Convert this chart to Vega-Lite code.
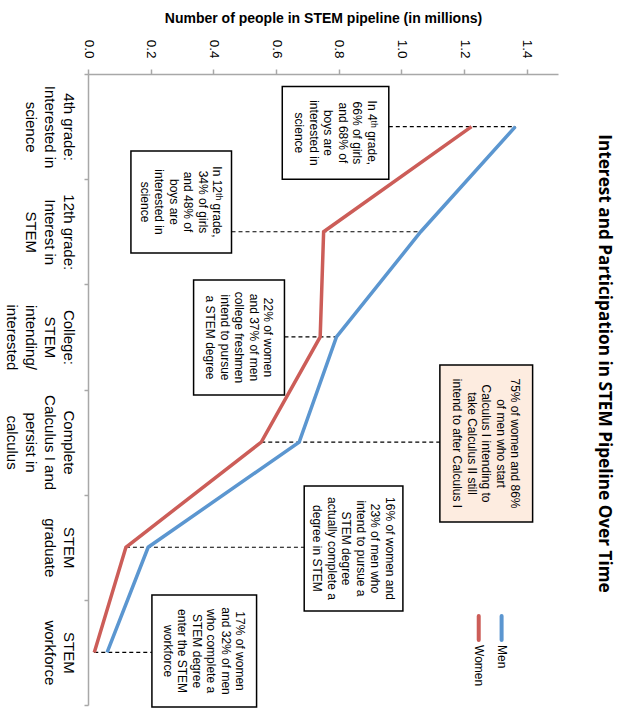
{
  "$schema": "https://vega.github.io/schema/vega-lite/v6.json",
  "width": 470,
  "height": 631,
  "autosize": "none",
  "padding": {"left": 88, "top": 74, "right": 69, "bottom": 3},
  "background": "white",
  "title": {
    "text": "Interest and Participation in STEM Pipeline Over Time",
    "orient": "right",
    "anchor": "middle",
    "font": "Open Sans",
    "fontSize": 17.2,
    "fontWeight": "bold",
    "color": "black",
    "offset": 38,
    "dx": -26
  },
  "config": {
    "view": {"stroke": null},
    "font": "Liberation Sans",
    "axis": {"grid": false}
  },
  "datasets": {
    "pipeline": [
      {"step": 1, "stage": "4th grade: Interested in science", "series": "Men", "value": 1.364},
      {"step": 2, "stage": "12th grade: Interest in STEM", "series": "Men", "value": 1.062},
      {"step": 3, "stage": "College: STEM intending/interested", "series": "Men", "value": 0.793},
      {"step": 4, "stage": "Complete Calculus I and persist in calculus", "series": "Men", "value": 0.674},
      {"step": 5, "stage": "STEM graduate", "series": "Men", "value": 0.192},
      {"step": 6, "stage": "STEM workforce", "series": "Men", "value": 0.061},
      {"step": 1, "stage": "4th grade: Interested in science", "series": "Women", "value": 1.224},
      {"step": 2, "stage": "12th grade: Interest in STEM", "series": "Women", "value": 0.752},
      {"step": 3, "stage": "College: STEM intending/interested", "series": "Women", "value": 0.741},
      {"step": 4, "stage": "Complete Calculus I and persist in calculus", "series": "Women", "value": 0.553},
      {"step": 5, "stage": "STEM graduate", "series": "Women", "value": 0.121},
      {"step": 6, "stage": "STEM workforce", "series": "Women", "value": 0.020}
    ],
    "notes": [
      {"step": 1, "x1": 0.62, "x2": 0.96, "y1": 0.62, "y2": 1.5, "from": 0.96, "to": 1.364,
       "text": "In 4ᵗʰ grade,\n66% of girls\nand 68% of\nboys are\ninterested in\nscience"},
      {"step": 2, "x1": 0.137, "x2": 0.458, "y1": 1.232, "y2": 2.202, "from": 0.458, "to": 1.062,
       "text": "In 12ᵗʰ grade,\n34% of girls\nand 48% of\nboys are\ninterested in\nscience"},
      {"step": 3, "x1": 0.337, "x2": 0.627, "y1": 2.459, "y2": 3.552, "from": 0.627, "to": 0.793,
       "text": "22% of women\nand 37% of men\ncollege freshmen\nintend to pursue\na STEM degree"},
      {"step": 4, "x1": 1.123, "x2": 1.419, "y1": 3.267, "y2": 4.76, "from": 0.553, "to": 1.123,
       "text": "75% of women and 86%\nof men who start\nCalculus I intending to\ntake Calculus II still\nintend to after Calculus I"},
      {"step": 5, "x1": 0.69, "x2": 1.005, "y1": 4.417, "y2": 5.606, "from": 0.121, "to": 0.69,
       "text": "16% of women and\n23% of men who\nintend to pursue a\nSTEM degree\nactually complete a\ndegree in STEM"},
      {"step": 6, "x1": 0.204, "x2": 0.538, "y1": 5.454, "y2": 6.52, "from": 0.02, "to": 0.204,
       "text": "17% of women\nand 32% of men\nwho complete a\nSTEM degree\nenter the STEM\nworkforce"}
    ],
    "key": [
      {"series": "Men", "lx": 1.32, "ly1": 5.654, "ly2": 5.882, "ty": 5.93},
      {"series": "Women", "lx": 1.247, "ly1": 5.654, "ly2": 5.882, "ty": 5.93}
    ]
  },
  "layer": [
    {
      "data": {"name": "notes"},
      "mark": {"type": "rule", "color": "black", "strokeWidth": 1.2, "strokeDash": [4, 3]},
      "encoding": {
        "x": {
          "field": "from",
          "type": "quantitative",
          "scale": {"domain": [0, 1.5], "nice": false, "zero": true},
          "axis": {
            "orient": "top",
            "values": [0, 0.2, 0.4, 0.6, 0.8, 1.0, 1.2, 1.4],
            "format": ".1f",
            "grid": false,
            "labelAngle": 90,
            "labelAlign": "right",
            "labelBaseline": "middle",
            "labelFont": "Liberation Sans",
            "labelFontSize": 13.5,
            "labelColor": "black",
            "labelPadding": 11,
            "labelFlush": false,
            "labelOverlap": false,
            "tickSize": 5,
            "tickWidth": 1.5,
            "tickColor": "#a8a8a8",
            "domainColor": "#a8a8a8",
            "domainWidth": 1.5,
            "title": "Number of people in STEM pipeline (in millions)",
            "titleFont": "Liberation Sans",
            "titleFontSize": 14,
            "titleFontWeight": "bold",
            "titleColor": "black",
            "titlePadding": 14
          }
        },
        "x2": {"field": "to"},
        "y": {
          "field": "step",
          "type": "quantitative",
          "scale": {"domain": [0.5, 6.5], "reverse": true, "nice": false, "zero": false},
          "axis": {
            "orient": "left",
            "values": [0.5, 1.5, 2.5, 3.5, 4.5, 5.5, 6.5],
            "grid": false,
            "labelExpr": "datum.value < 1 ? ['4th grade:', 'Interested in', 'science'] : datum.value < 2 ? ['12th grade:', 'Interest in', 'STEM'] : datum.value < 3 ? ['College:', 'STEM', 'intending/', 'interested'] : datum.value < 4 ? ['Complete', 'Calculus I and', 'persist in', 'calculus'] : datum.value < 5 ? ['STEM', 'graduate'] : datum.value < 6 ? ['STEM', 'workforce'] : ''",
            "labelAngle": 90,
            "labelAlign": "center",
            "labelBaseline": "top",
            "labelOffset": 52.6,
            "labelFont": "Liberation Sans",
            "labelFontSize": 15,
            "labelLineHeight": 19,
            "labelColor": "black",
            "labelPadding": 9,
            "labelFlush": false,
            "labelOverlap": false,
            "labelBound": false,
            "tickSize": 4,
            "tickWidth": 1.5,
            "tickColor": "#a8a8a8",
            "domainColor": "#a8a8a8",
            "domainWidth": 1.5,
            "title": ""
          }
        }
      }
    },
    {
      "data": {"name": "pipeline"},
      "mark": {"type": "line", "strokeWidth": 3.5, "strokeJoin": "miter"},
      "encoding": {
        "x": {"field": "value", "type": "quantitative"},
        "y": {"field": "step", "type": "quantitative"},
        "order": {"field": "step", "type": "quantitative"},
        "color": {
          "field": "series",
          "type": "nominal",
          "scale": {"domain": ["Men", "Women"], "range": ["#5b96d0", "#cc5d58"]},
          "legend": null
        }
      }
    },
    {
      "data": {"name": "notes"},
      "mark": {"type": "rect", "stroke": "black", "strokeWidth": 1.5},
      "encoding": {
        "x": {"field": "x1", "type": "quantitative"},
        "x2": {"field": "x2"},
        "y": {"field": "y1", "type": "quantitative"},
        "y2": {"field": "y2"},
        "fill": {
          "condition": {"test": "datum.step === 4", "value": "#fdece0"},
          "value": "white"
        }
      }
    },
    {
      "data": {"name": "notes"},
      "transform": [
        {"calculate": "(datum.x1 + datum.x2) / 2 + (length(split(datum.text, '\\n')) - 1) * 14.5 / 2 / (470 / 1.5)", "as": "xm"},
        {"calculate": "(datum.y1 + datum.y2) / 2", "as": "ym"}
      ],
      "mark": {
        "type": "text",
        "angle": 90,
        "align": "center",
        "baseline": "middle",
        "lineBreak": "\n",
        "lineHeight": 14.5,
        "font": "Liberation Sans",
        "fontSize": 12,
        "color": "black"
      },
      "encoding": {
        "x": {"field": "xm", "type": "quantitative"},
        "y": {"field": "ym", "type": "quantitative"},
        "text": {"field": "text", "type": "nominal"}
      }
    },
    {
      "data": {"name": "key"},
      "mark": {"type": "rule", "strokeWidth": 4, "strokeCap": "round"},
      "encoding": {
        "x": {"field": "lx", "type": "quantitative"},
        "y": {"field": "ly1", "type": "quantitative"},
        "y2": {"field": "ly2"},
        "color": {"field": "series", "type": "nominal", "legend": null}
      }
    },
    {
      "data": {"name": "key"},
      "mark": {
        "type": "text",
        "angle": 90,
        "align": "left",
        "baseline": "middle",
        "font": "Liberation Sans",
        "fontSize": 12,
        "color": "black"
      },
      "encoding": {
        "x": {"field": "lx", "type": "quantitative"},
        "y": {"field": "ty", "type": "quantitative"},
        "text": {"field": "series", "type": "nominal"}
      }
    }
  ]
}
